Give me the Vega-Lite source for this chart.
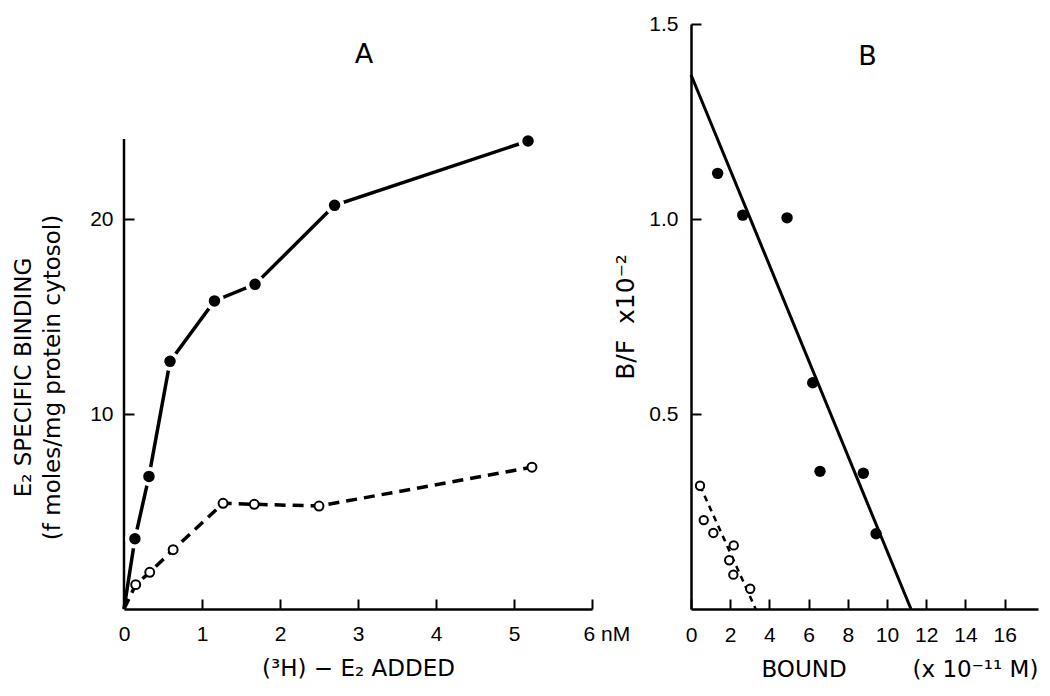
{
  "$schema": "https://vega.github.io/schema/vega-lite/v6.json",
  "background": "white",
  "padding": {"left": 12, "top": 13, "right": 5, "bottom": 5},
  "spacing": 99,
  "bounds": "flush",
  "config": {
    "view": {"stroke": null},
    "font": "DejaVu Sans",
    "axis": {
      "grid": true,
      "gridColor": "black",
      "gridOpacity": 1,
      "gridWidth": 2,
      "domainColor": "black",
      "domainWidth": 2.5,
      "ticks": false,
      "labelFont": "Liberation Sans",
      "labelFontSize": 21,
      "labelColor": "black",
      "labelPadding": 14,
      "labelFlush": false,
      "labelOverlap": false,
      "labelBound": false,
      "titleFont": "DejaVu Sans",
      "titleFontSize": 23,
      "titleFontWeight": "normal",
      "titleColor": "black"
    },
    "axisX": {"gridDash": [10, 2000], "gridDashOffset": 1435},
    "axisY": {"gridDash": [10, 2000], "gridDashOffset": 0},
    "title": {"font": "DejaVu Sans", "fontSize": 27, "fontWeight": "normal", "color": "black"}
  },
  "datasets": {
    "a": [
      {"series": "filled", "x": 0, "y": 0},
      {"series": "filled", "x": 0.14, "y": 3.6},
      {"series": "filled", "x": 0.32, "y": 6.8},
      {"series": "filled", "x": 0.59, "y": 12.7},
      {"series": "filled", "x": 1.16, "y": 15.8},
      {"series": "filled", "x": 1.68, "y": 16.65},
      {"series": "filled", "x": 2.7, "y": 20.7},
      {"series": "filled", "x": 5.18, "y": 24.0},
      {"series": "open", "x": 0, "y": 0},
      {"series": "open", "x": 0.15, "y": 1.25},
      {"series": "open", "x": 0.33, "y": 1.88},
      {"series": "open", "x": 0.63, "y": 3.04},
      {"series": "open", "x": 1.27, "y": 5.42},
      {"series": "open", "x": 1.67, "y": 5.37},
      {"series": "open", "x": 2.5, "y": 5.28},
      {"series": "open", "x": 5.23, "y": 7.27}
    ],
    "b": [
      {"series": "filled", "x": 1.36, "y": 1.117},
      {"series": "filled", "x": 2.64, "y": 1.01},
      {"series": "filled", "x": 4.9, "y": 1.003},
      {"series": "filled", "x": 6.21, "y": 0.58},
      {"series": "filled", "x": 6.58, "y": 0.353},
      {"series": "filled", "x": 8.79, "y": 0.348},
      {"series": "filled", "x": 9.44, "y": 0.193},
      {"series": "open", "x": 0.46, "y": 0.316},
      {"series": "open", "x": 0.65, "y": 0.228},
      {"series": "open", "x": 1.14, "y": 0.195},
      {"series": "open", "x": 2.18, "y": 0.163},
      {"series": "open", "x": 1.95, "y": 0.125},
      {"series": "open", "x": 2.16, "y": 0.088},
      {"series": "open", "x": 3.02, "y": 0.052},
      {"series": "fit", "x": 0, "y": 1.37},
      {"series": "fit", "x": 11.22, "y": 0},
      {"series": "openfit", "x": 0.46, "y": 0.316},
      {"series": "openfit", "x": 3.3, "y": 0}
    ]
  },
  "hconcat": [
    {
      "width": 468,
      "height": 585,
      "title": {"text": "A", "anchor": "middle", "frame": "group", "baseline": "middle", "offset": -58, "dx": 6},
      "data": {"name": "a"},
      "layer": [
        {
          "transform": [{"filter": "datum.series == 'filled'"}],
          "mark": {"type": "line", "color": "black", "strokeWidth": 3.5},
          "encoding": {
            "x": {
              "field": "x", "type": "quantitative",
              "scale": {"domain": [0, 6], "nice": false},
              "axis": {
                "values": [0, 1, 2, 3, 4, 5, 6],
                "format": "d",
                "title": "(³H) − E₂ ADDED",
                "titlePadding": 13,
                "labelExpr": "datum.value == 6 ? '6 nM' : datum.label",
                "labelAlign": {"condition": {"test": "datum.value == 6", "value": "left"}, "value": "center"},
                "labelOffset": {"condition": {"test": "datum.value == 6", "value": -9}, "value": 0}
              }
            },
            "y": {
              "field": "y", "type": "quantitative",
              "scale": {"domain": [0, 30], "nice": false},
              "axis": {
                "values": [10, 20],
                "format": "d",
                "domain": false,
                "labelPadding": 11,
                "title": ["E₂ SPECIFIC BINDING", "(f moles/mg protein cytosol)"],
                "titleLineHeight": 29,
                "titleY": 353,
                "titlePadding": 25
              }
            }
          }
        },
        {
          "data": {"values": [{}]},
          "mark": {"type": "rule", "color": "black", "strokeWidth": 2.5},
          "encoding": {
            "x": {"datum": 0, "type": "quantitative"},
            "y": {"datum": 0, "type": "quantitative"},
            "y2": {"datum": 24.1}
          }
        },
        {
          "transform": [{"filter": "datum.series == 'open'"}],
          "mark": {"type": "line", "color": "black", "strokeWidth": 3.5, "strokeDash": [11, 7]},
          "encoding": {
            "x": {"field": "x", "type": "quantitative"},
            "y": {"field": "y", "type": "quantitative"}
          }
        },
        {
          "transform": [{"filter": "datum.series == 'filled' && datum.x > 0"}],
          "mark": {"type": "circle", "fill": "black", "stroke": "white", "strokeWidth": 4, "size": 240, "opacity": 1},
          "encoding": {
            "x": {"field": "x", "type": "quantitative"},
            "y": {"field": "y", "type": "quantitative"}
          }
        },
        {
          "transform": [{"filter": "datum.series == 'open' && datum.x > 0"}],
          "mark": {"type": "point", "shape": "circle", "filled": true, "fill": "white", "stroke": "black", "strokeWidth": 2, "size": 80, "opacity": 1},
          "encoding": {
            "x": {"field": "x", "type": "quantitative"},
            "y": {"field": "y", "type": "quantitative"}
          }
        }
      ]
    },
    {
      "width": 347,
      "height": 585,
      "title": {"text": "B", "anchor": "middle", "frame": "group", "baseline": "middle", "offset": -71, "dx": 3},
      "data": {"name": "b"},
      "layer": [
        {
          "transform": [{"filter": "datum.series == 'fit'"}],
          "mark": {"type": "line", "color": "black", "strokeWidth": 3},
          "encoding": {
            "x": {
              "field": "x", "type": "quantitative",
              "scale": {"domain": [0, 17.7], "nice": false},
              "axis": {
                "values": [0, 2, 4, 6, 8, 10, 12, 14, 16],
                "format": "d",
                "labelPadding": 15,
                "title": "BOUND\u00a0\u00a0\u00a0\u00a0\u00a0\u00a0\u00a0\u00a0\u00a0(x 10⁻¹¹ M)",
                "titleAnchor": "start",
                "titleAlign": "left",
                "titleX": 70,
                "titlePadding": 13
              }
            },
            "y": {
              "field": "y", "type": "quantitative",
              "scale": {"domain": [0, 1.5], "nice": false},
              "axis": {
                "values": [0.5, 1, 1.5],
                "format": ".1f",
                "labelPadding": 13,
                "title": "B/F\u00a0\u00a0x10⁻²",
                "titleFontSize": 25,
                "titlePadding": 10
              }
            }
          }
        },
        {
          "transform": [{"filter": "datum.series == 'openfit'"}],
          "mark": {"type": "line", "color": "black", "strokeWidth": 2.5, "strokeDash": [6, 5]},
          "encoding": {
            "x": {"field": "x", "type": "quantitative"},
            "y": {"field": "y", "type": "quantitative"}
          }
        },
        {
          "transform": [{"filter": "datum.series == 'filled'"}],
          "mark": {"type": "circle", "fill": "black", "size": 130, "opacity": 1},
          "encoding": {
            "x": {"field": "x", "type": "quantitative"},
            "y": {"field": "y", "type": "quantitative"}
          }
        },
        {
          "transform": [{"filter": "datum.series == 'open'"}],
          "mark": {"type": "point", "shape": "circle", "filled": true, "fill": "white", "stroke": "black", "strokeWidth": 2, "size": 70, "opacity": 1},
          "encoding": {
            "x": {"field": "x", "type": "quantitative"},
            "y": {"field": "y", "type": "quantitative"}
          }
        }
      ]
    }
  ]
}
